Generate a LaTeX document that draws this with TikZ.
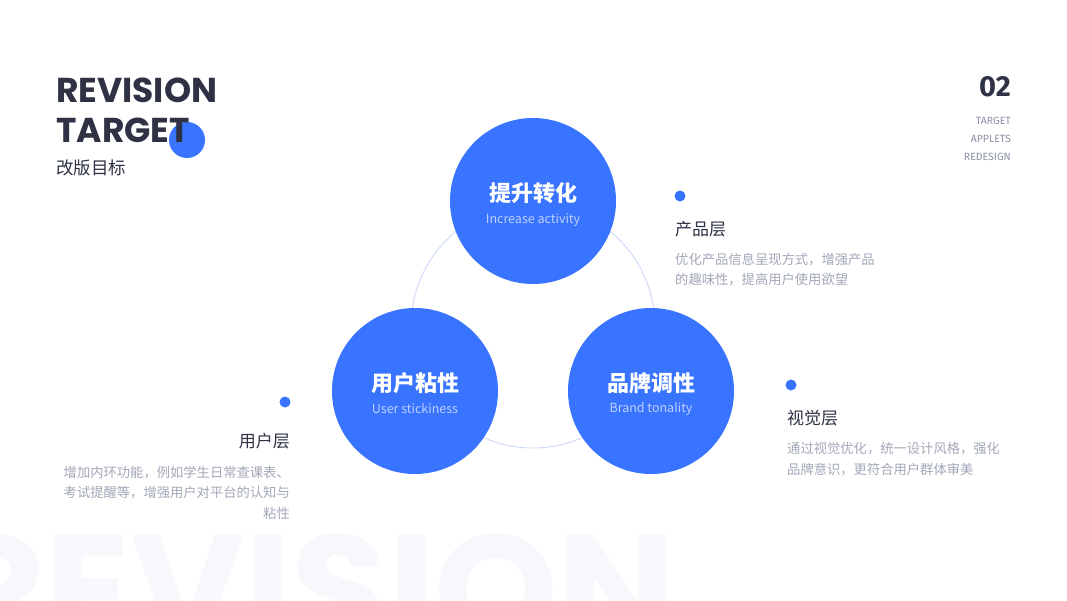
\documentclass[tikz,border=0pt]{standalone}
\usepackage{fontspec}
\setmainfont{Noto Sans CJK SC}
\newfontfamily\pop{Poppins}
\newfontfamily\fira{Fira Sans}
\definecolor{blueA}{HTML}{3874FF}
\definecolor{darkT}{HTML}{2E3244}
\definecolor{grayT}{HTML}{A3A8B8}
\definecolor{grayR}{HTML}{8C92A5}
\definecolor{subT}{HTML}{BFD0FF}
\definecolor{ringC}{HTML}{C8D5FB}
\definecolor{bgT}{HTML}{F7F7FC}
\tikzset{
  bubble/.style={circle, fill=blueA, minimum size=166pt, inner sep=0pt},
  bubbletitle/.style={text=white, font=\bfseries\fontsize{22}{22}\selectfont, inner sep=0pt},
  bubblesub/.style={text=subT, font=\fontsize{12.5}{12.5}\selectfont, inner sep=0pt},
  dot/.style={circle, fill=blueA, minimum size=11pt, inner sep=0pt},
  layertitle/.style={text=darkT, font=\fontsize{17}{17}\selectfont, inner sep=0pt},
  layerdesc/.style={text=grayT, font=\fontsize{13.3}{20.5}\selectfont, inner sep=0pt},
  ring/.style={draw=ringC, line width=0.8pt},
  headword/.style={anchor=base west, inner sep=0pt, text=darkT, font=\pop\bfseries\fontsize{34.5}{34.5}\selectfont},
  smallR/.style={text=grayR, font=\fira\fontsize{10.5}{10.5}\selectfont, inner sep=0pt, anchor=east}
}
\begin{document}
\begin{tikzpicture}[x=1pt,y=-1pt]
\useasboundingbox (0,0) rectangle (1067,600);
\fill[white] (0,0) rectangle (1067,600);
% background big word
\node[anchor=base east, inner sep=0pt, text=bgT, font=\pop\bfseries\fontsize{157}{157}\selectfont] (bgword) at (676,645) {REVISION};
% header
\node[circle, fill=blueA, minimum size=36pt, inner sep=0pt] (hdot) at (187,140) {};
\node[headword] (rev) at (56,102) {REVISION};
\node[headword] (tgt) at (56,142) {TARGET};
\node[anchor=west, inner sep=0pt, text=darkT, font=\fontsize{17.5}{17.5}\selectfont] (cn) at (56,168) {改版目标};
% page number
\node[anchor=base east, inner sep=0pt, text=darkT, font=\fira\bfseries\fontsize{29}{29}\selectfont] (num) at (1011,96) {02};
\node[smallR] (s1) at (1011,121) {TARGET};
\node[smallR] (s2) at (1011,139) {APPLETS};
\node[smallR] (s3) at (1011,157) {REDESIGN};
% ring
\coordinate (rc) at (533,326);
\draw[ring] (rc) circle[radius=122];
% bubbles
\node[bubble] (top) at (533,201) {};
\node[bubble] (left) at (415,391) {};
\node[bubble] (right) at (651,391) {};
\node[bubbletitle] (topT) at (533,193) {提升转化};
\node[bubblesub] (topS) at (533,220) {Increase activity};
\node[bubbletitle] (leftT) at (415,383) {用户粘性};
\node[bubblesub] (leftS) at (415,409) {User stickiness};
\node[bubbletitle] (rightT) at (651,383) {品牌调性};
\node[bubblesub] (rightS) at (651,409) {Brand tonality};
% product layer
\node[dot] (d1) at (680,196) {};
\node[layertitle, anchor=west] (p1) at (675,229) {产品层};
\node[layerdesc, anchor=north west, align=left] (p2) at (675,252.5) {优化产品信息呈现方式，增强产品\\的趣味性，提高用户使用欲望};
% user layer
\node[dot] (d2) at (285,402) {};
\node[layertitle, anchor=east] (u1) at (290,441) {用户层};
\node[layerdesc, anchor=north east, align=right] (u2) at (290,465.5) {增加内环功能，例如学生日常查课表、\\考试提醒等，增强用户对平台的认知与\\粘性};
% visual layer
\node[dot] (d3) at (791,385) {};
\node[layertitle, anchor=west] (v1) at (787,418) {视觉层};
\node[layerdesc, anchor=north west, align=left] (v2) at (787,442.5) {通过视觉优化，统一设计风格，强化\\品牌意识，更符合用户群体审美};
\end{tikzpicture}
\end{document}
